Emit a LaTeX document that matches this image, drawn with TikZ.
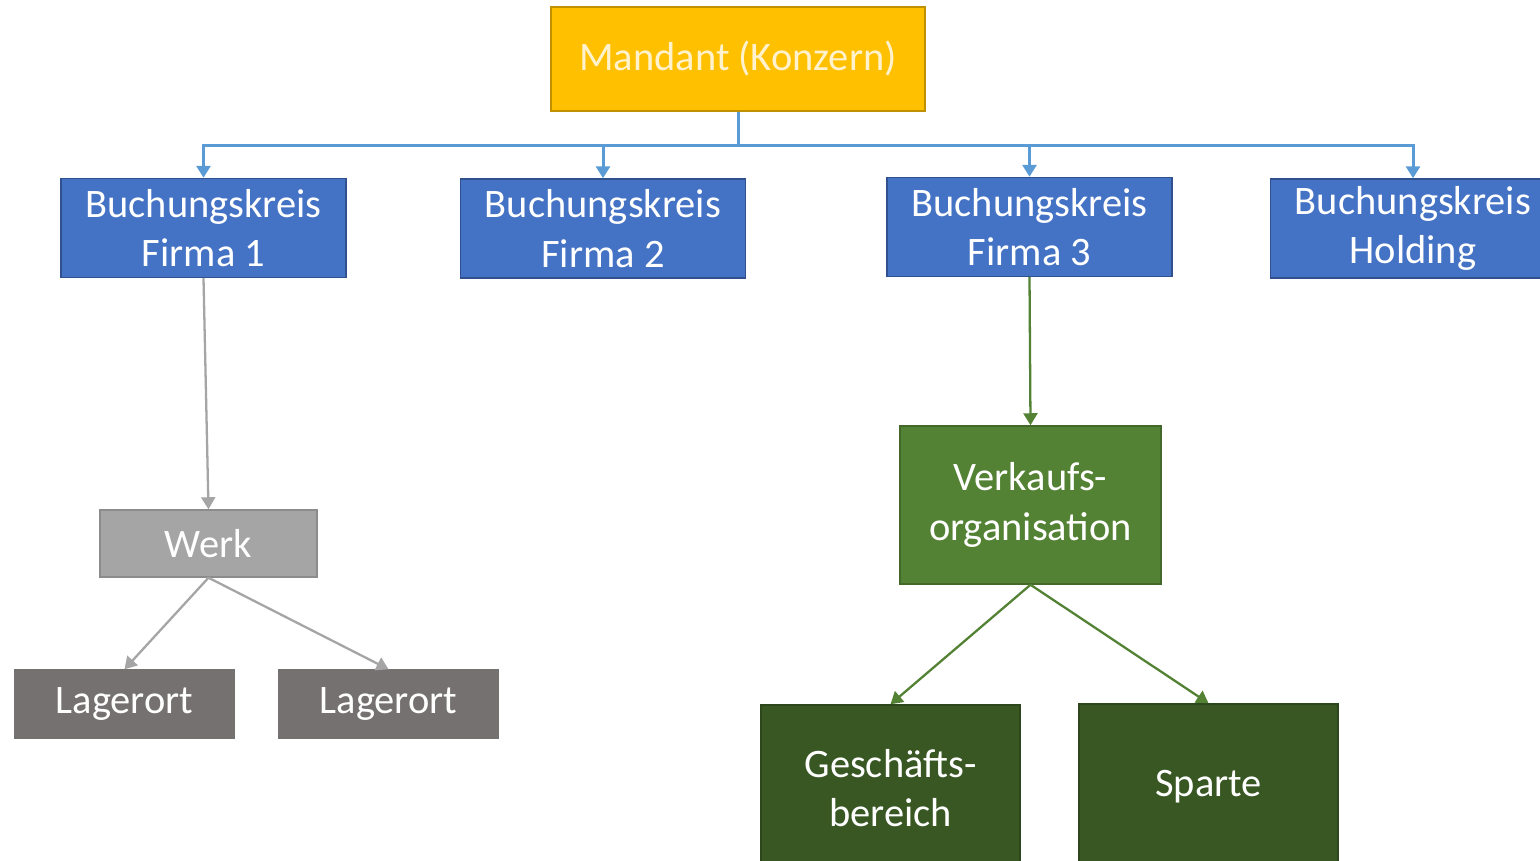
\documentclass[tikz,border=0pt]{standalone}
\usepackage{fontspec}
\setmainfont{Carlito}
\usepackage{xcolor}
\usepackage{tikz}
\usetikzlibrary{arrows.meta,positioning}
\definecolor{mandgold}{HTML}{FFC000}
\definecolor{mandedge}{HTML}{BF9000}
\definecolor{mandtext}{HTML}{FFF2CC}
\definecolor{bkblue}{HTML}{4472C4}
\definecolor{bkedge}{HTML}{2F528F}
\definecolor{busblue}{HTML}{5B9BD5}
\definecolor{werkgray}{HTML}{A5A5A5}
\definecolor{werkedge}{HTML}{8C8C8C}
\definecolor{lagergray}{HTML}{767171}
\definecolor{vkgreen}{HTML}{548235}
\definecolor{gbgreen}{HTML}{385723}
\tikzset{
  blk/.style={draw, align=center, font=\fontsize{11.5}{14}\selectfont, text=white, inner sep=2pt, line width=0.4pt},
  mand/.style={blk, fill=mandgold, draw=mandedge, text=mandtext, minimum width=3.74cm, minimum height=1.04cm},
  bk/.style={blk, fill=bkblue, draw=bkedge, minimum width=2.85cm, minimum height=0.99cm},
  werk/.style={blk, fill=werkgray, draw=werkedge, minimum width=2.17cm, minimum height=0.67cm},
  lager/.style={blk, fill=lagergray, draw=lagergray, minimum width=2.19cm, minimum height=0.68cm},
  vko/.style={blk, fill=vkgreen, draw=vkgreen!80!black, minimum width=2.61cm, minimum height=1.58cm},
  sub/.style={blk, fill=gbgreen, draw=gbgreen!80!black, minimum width=2.59cm, minimum height=1.66cm},
  arr/.style={-{Triangle[length=1.2mm, width=1.4mm]}, line width=0.65pt},
  busarr/.style={arr, draw=busblue, line width=0.85pt},
}
\begin{document}
\begin{tikzpicture}[x=0.01cm, y=-0.01cm]
\useasboundingbox (0,0) rectangle (1540,861);
% Mandant und Buchungskreise
\node[mand] (mand) at (738,59) {Mandant (Konzern)};
\node[bk] (bk1) at (203.5,228) {Buchungskreis\\Firma 1};
\node[bk] (bk2) at (603,228.5) {Buchungskreis\\Firma 2};
\node[bk] (bk3) at (1029.5,227) {Buchungskreis\\Firma 3};
\node[bk] (bkh) at (1413,228.5) {Buchungskreis\\Holding};
\foreach \b in {bk1,bk2,bk3,bkh} {\draw[busarr] (mand.south) -- ++(0,34) -| (\b.north);}
% Logistik
\node[werk] (werk) at (208.5,543.5) {Werk};
\node[lager] (lo1) at (124.5,704) {Lagerort};
\node[lager] (lo2) at (388.5,704) {Lagerort};
\draw[arr, werkgray] (bk1.south) -- (werk.north);
\foreach \l in {lo1,lo2} {\draw[arr, werkgray] (werk.south) -- (\l.north);}
% Vertrieb
\node[vko] (vko) at (1030.5,505) {Verkaufs-\\organisation};
\node[sub] (gb) at (890.5,788) {Geschäfts-\\bereich};
\node[sub] (sp) at (1208.5,787) {Sparte};
\draw[arr, vkgreen] (bk3.south) -- (vko.north);
\foreach \s in {gb,sp} {\draw[arr, vkgreen] (vko.south) -- (\s.north);}
\end{tikzpicture}
\end{document}
